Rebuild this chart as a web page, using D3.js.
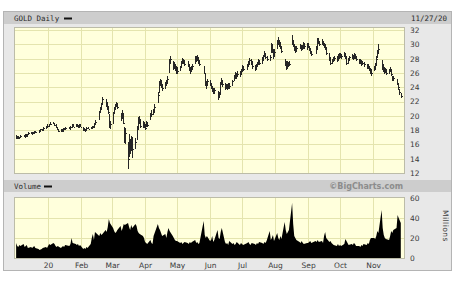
<!DOCTYPE html>
<html>
<head>
<meta charset="utf-8">
<script src="https://cdn.jsdelivr.net/npm/d3@7"></script>
<style>
  body { margin: 0; background: #fff; }
  svg { display: block; font-family: 'DejaVu Sans', sans-serif; }
</style>
</head>
<body>
<script>
// ---- data ----
const symbol = 'GOLD Daily';
const asOf = '11/27/20';
const holidays = ['2019-12-25', '2020-01-01', '2020-01-20', '2020-02-17', '2020-04-10',
  '2020-05-25', '2020-07-03', '2020-09-07', '2020-11-26'];

// daily closes, Dec 2 2019 .. Nov 27 2020 (one row per month)
const closes = [
  16.9,17.1,16.9,17.0,17.2, 17.1,17.3,17.2,17.4,17.6, 17.5,17.7,17.6,17.8,17.7, 17.9,18.1,18.0,18.3, 18.5,18.6,
  18.8,18.9, 19.0,18.7,18.4,18.1,17.9, 18.0,17.9,18.1,18.2,18.3, 18.2,18.4,18.6,18.5, 18.7,18.6,18.4,18.6,18.5,
  18.0,18.1,18.0,18.3,18.2, 18.3,18.5,18.4,18.9,19.2, 20.5,21.0,21.6,22.3, 21.8,21.2,20.5,18.6,18.9,
  20.4,21.0,21.5,21.8,21.2, 19.8,20.4,19.0,16.6,17.6, 13.9,16.2,15.2,16.8,15.4, 16.3,18.2,19.4,19.6,18.6, 18.9,18.6,
  18.3,19.0,18.7, 20.1,20.3,20.6,21.2, 22.9,24.4,24.8,24.3,23.9, 24.4,24.6,25.2,27.5,27.9, 26.8,27.2,26.6,26.3,
  26.3, 26.8,27.4,27.9,27.6,27.3, 27.1,26.6,26.3,26.5,27.0, 28.0,27.9,28.2,27.6,27.2, 26.0,24.4,24.3,24.8,
  24.6,24.0,23.8,23.2,23.6, 22.7,23.0,24.5,24.9,24.4, 24.0,24.2,23.9,24.3,24.1, 24.8,25.4,25.7,25.5,25.9, 25.8,26.3,
  26.7,26.5, 26.9,27.3,27.8,27.4,27.0, 26.5,26.9,27.2,27.6,27.4, 27.8,28.3,28.7,28.2,28.0, 28.2,29.8,29.4,28.4,28.9,
  30.2,30.4,30.0,29.8,29.1, 27.4,26.7,27.2,27.1,27.3, 30.4,30.0,29.4,29.1,29.5, 29.8,29.4,29.6,30.0,29.7, 29.6,
  29.8,29.4,29.0,28.6, 29.3,30.6,30.4,30.0, 30.4,30.1,29.8,29.6,28.8, 28.0,27.4,27.6,27.9,28.1, 27.8,28.2,28.4,
  28.5,28.3, 28.6,28.4,27.4,27.8,28.2, 28.4,28.1,28.5,28.2,27.9, 27.6,27.8,27.3,27.4,27.2, 27.0,26.8,26.5,26.3,26.0,
  26.6,27.1,27.9,28.8,29.4, 26.9,26.5,26.3,26.4,26.0, 26.3,26.5,25.8,25.2,25.3, 24.6,24.0,23.3, 22.8
];
const highs = [
  17.3,17.2,17.2,17.1,17.3, 17.3,17.4,17.4,17.5,17.7, 17.7,17.8,17.8,17.9,17.9, 18.0,18.2,18.2,18.4, 18.6,18.8,
  18.9,19.1, 19.2,19.0,18.8,18.5,18.2, 18.2,18.1,18.3,18.3,18.5, 18.4,18.6,18.8,18.8, 18.9,18.9,18.7,18.8,18.8,
  18.5,18.3,18.2,18.4,18.4, 18.4,18.6,18.6,19.0,19.4, 20.7,21.3,21.8,22.6, 22.4,21.9,21.4,20.2,19.3,
  20.6,21.3,21.7,22.0,21.7, 20.4,20.8,20.2,18.4,18.3, 16.4,17.5,16.8,17.2,17.1, 16.9,18.6,19.9,20.0,19.4, 19.3,19.2,
  18.8,19.3,19.2, 20.4,20.8,20.9,21.6, 23.3,24.9,25.2,25.0,24.5, 24.7,25.0,25.6,28.0,28.4, 27.6,27.5,27.3,26.9,
  26.8, 27.0,27.6,28.1,28.0,27.8, 27.6,27.2,26.8,26.9,27.3, 28.3,28.4,28.5,28.2,27.8, 27.0,25.8,24.9,25.2,
  25.0,24.6,24.2,23.9,23.9, 23.4,23.3,24.7,25.3,25.0, 24.6,24.5,24.4,24.6,24.6, 25.0,25.7,26.1,26.0,26.2, 26.2,26.6,
  27.1,26.9, 27.2,27.6,28.1,28.0,27.6, 27.1,27.2,27.5,27.9,27.8, 28.2,28.5,29.0,28.8,28.3, 28.5,30.2,30.1,29.2,29.3,
  30.6,31.0,30.6,30.3,29.8, 27.9,27.6,27.6,27.5,27.6, 31.3,30.6,30.1,29.7,29.8, 30.1,29.9,29.9,30.3,30.2, 30.2,
  30.2,29.8,29.5,29.1, 29.7,30.9,30.9,30.5, 30.7,30.5,30.2,30.0,29.6, 28.8,28.2,28.0,28.2,28.4, 28.3,28.6,28.8,
  28.8,28.7, 28.9,28.8,28.4,28.1,28.4, 28.7,28.5,28.8,28.6,28.3, 28.0,28.0,27.8,27.7,27.5, 27.3,27.2,26.9,26.7,26.5,
  26.9,27.4,28.3,29.2,30.0, 27.8,27.2,26.8,26.7,26.5, 26.6,26.8,26.5,25.6,25.6, 25.2,24.5,23.7, 23.2
];
const lows = [
  16.7,16.8,16.8,16.8,16.9, 17.0,17.0,17.1,17.1,17.3, 17.4,17.4,17.5,17.5,17.6, 17.6,17.8,17.9,17.9, 18.2,18.3,
  18.5,18.7, 18.8,18.6,18.3,18.0,17.8, 17.8,17.8,17.8,18.0,18.1, 18.1,18.2,18.3,18.4, 18.4,18.4,18.3,18.3,18.4,
  17.9,17.9,17.8,18.0,18.1, 18.1,18.2,18.3,18.4,18.9, 19.4,20.4,20.8,21.5, 21.2,20.8,20.2,18.3,18.2,
  18.9,20.2,20.8,21.2,20.9, 19.3,19.6,18.8,16.2,16.1, 12.6,14.2,14.6,15.1,14.1, 15.4,16.6,18.1,18.8,18.3, 18.3,18.3,
  18.0,18.5,18.4, 19.4,19.8,20.1,20.6, 21.8,23.2,24.1,23.9,23.4, 23.7,24.1,24.4,26.0,27.2, 26.4,26.6,26.2,25.8,
  25.8, 26.2,26.7,27.3,27.2,27.0, 26.8,26.3,25.9,26.1,26.4, 27.2,27.5,27.7,27.3,27.0, 25.8,24.2,23.7,24.2,
  24.1,23.7,23.3,23.0,23.1, 22.2,22.5,23.1,24.4,24.0, 23.6,23.8,23.6,23.8,23.8, 24.2,24.8,25.2,25.1,25.4, 25.4,25.7,
  26.2,26.2, 26.4,26.8,27.2,27.1,26.6, 26.2,26.4,26.8,27.1,27.1, 27.3,27.8,28.2,27.9,27.6, 27.6,28.8,28.8,27.9,28.2,
  29.4,29.9,29.6,29.4,28.8, 27.0,26.4,26.7,26.8,26.9, 29.9,29.6,29.0,28.8,29.0, 29.3,29.1,29.2,29.4,29.3, 29.2,
  29.5,29.1,28.6,28.3, 28.7,29.4,30.1,29.8, 29.9,29.8,29.5,29.2,28.5, 27.7,27.1,27.2,27.5,27.7, 27.5,27.8,28.0,
  28.1,28.0, 28.2,27.9,27.1,27.2,27.7, 28.0,27.8,28.0,27.9,27.6, 27.3,27.3,27.0,27.1,26.8, 26.6,26.5,26.2,25.9,25.6,
  26.2,26.5,27.0,28.1,28.8, 26.4,26.1,25.9,26.0,25.7, 25.8,26.1,25.5,24.9,24.8, 24.3,23.6,22.9, 22.5
];
// daily volume, millions of shares
const volumes = [
  15,12,11,13,12, 14,11,12,13,10, 11,10,11,12,10, 9,8,9,10, 11,10,
  14,13, 15,14,12,11,12, 10,11,12,11,13, 12,14,20,15, 14,13,14,12,13,
  9,10,9,11,10, 14,20,24,18,26, 22,25,23,24, 28,26,31,39,35,
  30,27,25,26,28, 32,27,30,34,33, 35,31,28,33,30, 34,32,27,25,24, 22,20,
  16,15,14, 18,15,14,22, 34,30,28,25,22, 24,20,26,30,27, 22,20,18,17,
  17, 15,16,14,15,16, 15,14,16,15,16, 18,15,16,14,15, 37,23,20,22,
  17,18,22,16,18, 28,20,19,26,30, 16,14,15,13,17, 14,15,13,14,16, 13,15,
  14,13, 15,16,14,13,15, 14,13,15,14,16, 15,14,16,15,17, 27,18,20,23,17,
  25,20,18,22,19, 36,28,24,26,28, 55,34,22,20,18, 16,15,17,15,14, 15,
  15,16,17,15, 17,16,18,16, 17,15,22,26,20, 16,17,15,14,13, 12,14,12,
  13,12, 14,19,17,15,13, 14,13,15,14,12, 12,11,13,12,14, 13,15,14,18,20,
  20,19,22,27,25, 48,30,23,20,19, 18,22,27,25,28, 30,43,40, 35
];

const priceTicks = [12, 14, 16, 18, 20, 22, 24, 26, 28, 30, 32];
const volumeTicks = [0, 20, 40, 60];
const monthTicks = ['2020-01-01', '2020-02-01', '2020-03-01', '2020-04-01', '2020-05-01', '2020-06-01',
  '2020-07-01', '2020-08-01', '2020-09-01', '2020-10-01', '2020-11-01'];
const monthLabels = ['20', 'Feb', 'Mar', 'Apr', 'May', 'Jun', 'Jul', 'Aug', 'Sep', 'Oct', 'Nov'];

// ---- trading calendar ----
const parse = d3.utcParse('%Y-%m-%d');
const fmt = d3.utcFormat('%Y-%m-%d');
const days = d3.utcDay
  .range(parse('2019-12-02'), parse('2020-11-28'))
  .filter((d) => d.getUTCDay() % 6 !== 0 && !holidays.includes(fmt(d)));
const bars = days.map((date, i) => ({
  date, close: closes[i], high: highs[i], low: lows[i], vol: volumes[i]
})).filter((d) => d.close != null);

// ---- layout ----
const W = 467, H = 282;
const left = 14, right = 404;
const pTop = 27, pBot = 173;
const vTop = 198, vBot = 258;
const bg = '#ffffdc', grid = '#e4e4ae', frame = '#e8e8e8', band = '#cdcdcd';

const svg = d3.select('body').append('svg').attr('width', W).attr('height', H);

const x = d3.scaleUtc().domain([parse('2019-11-30'), parse('2020-11-30')]).range([left, right]);
const yP = d3.scaleLinear().domain([12, 32]).range([pBot, pTop + 3]);
const yV = d3.scaleLinear().domain([0, 60]).range([vBot, vTop]);
const px = (v) => Math.round(v) + 0.5;

// panel + bands
svg.append('rect').attr('x', 3.5).attr('y', 11.5).attr('width', 448).attr('height', 259)
  .attr('fill', frame).attr('stroke', '#b4b4b4');
svg.append('rect').attr('x', 4).attr('y', 12).attr('width', 447).attr('height', 12).attr('fill', band);
svg.append('rect').attr('x', 4).attr('y', 180).attr('width', 447).attr('height', 12).attr('fill', band);

// plot backgrounds
[[pTop, pBot], [vTop - 1, vBot]].forEach(([t, b]) => {
  svg.append('rect').attr('x', left + 0.5).attr('y', t + 0.5)
    .attr('width', right - left).attr('height', b - t)
    .attr('fill', bg).attr('stroke', '#bcbca8');
});

// grids
const gridG = svg.append('g').attr('stroke', grid).attr('stroke-width', 1).attr('shape-rendering', 'crispEdges');
gridG.selectAll('.vp').data(monthTicks).join('line')
  .attr('x1', (d) => px(x(parse(d)))).attr('x2', (d) => px(x(parse(d))))
  .attr('y1', pTop + 1).attr('y2', pBot);
gridG.selectAll('.vv').data(monthTicks).join('line')
  .attr('x1', (d) => px(x(parse(d)))).attr('x2', (d) => px(x(parse(d))))
  .attr('y1', vTop).attr('y2', vBot);
gridG.selectAll('.hp').data(priceTicks.slice(1)).join('line')
  .attr('x1', left + 1).attr('x2', right)
  .attr('y1', (d) => px(yP(d))).attr('y2', (d) => px(yP(d)));
gridG.selectAll('.hv').data(volumeTicks.slice(1, 3)).join('line')
  .attr('x1', left + 1).attr('x2', right)
  .attr('y1', (d) => px(yV(d))).attr('y2', (d) => px(yV(d)));

// price bars (high-low with close tick)
const barG = svg.append('g').attr('stroke', '#262626').attr('shape-rendering', 'crispEdges');
barG.selectAll('line.hl').data(bars).join('line')
  .attr('x1', (d) => px(x(d.date))).attr('x2', (d) => px(x(d.date)))
  .attr('y1', (d) => yP(d.high)).attr('y2', (d) => yP(d.low));
barG.selectAll('line.cl').data(bars).join('line')
  .attr('x1', (d) => px(x(d.date))).attr('x2', (d) => px(x(d.date)) + 1.5)
  .attr('y1', (d) => px(yP(d.close))).attr('y2', (d) => px(yP(d.close)));

// volume mountain
const area = d3.area()
  .x((d) => x(d.date))
  .y0(yV(0))
  .y1((d) => yV(d.vol));
svg.append('path').datum(bars).attr('d', area).attr('fill', '#000');

// axes labels
const yAxisP = svg.append('g').attr('transform', `translate(${right},0)`)
  .call(d3.axisRight(yP).tickValues(priceTicks).tickSize(0).tickPadding(6));
const yAxisV = svg.append('g').attr('transform', `translate(${right},0)`)
  .call(d3.axisRight(yV).tickValues(volumeTicks).tickSize(0).tickPadding(6));
const xAxis = svg.append('g').attr('transform', `translate(0,${vBot + 2})`)
  .call(d3.axisBottom(x).tickValues(monthTicks.map(parse)).tickSize(0).tickPadding(3)
    .tickFormat((d, i) => monthLabels[i]));
[yAxisP, yAxisV, xAxis].forEach((g) => {
  g.select('.domain').remove();
  g.selectAll('text').attr('font-family', "'DejaVu Sans', sans-serif")
    .attr('font-size', '7.5px').attr('fill', '#3a3a3a');
});

svg.append('text').attr('transform', 'translate(443,226) rotate(90)')
  .attr('text-anchor', 'middle').attr('font-size', '7.5px').attr('fill', '#3a3a3a')
  .attr('letter-spacing', '0.5').text('Millions');

// headers
const mono = "'DejaVu Sans Mono', monospace";
svg.append('text').attr('x', 14).attr('y', 21).attr('font-family', mono)
  .attr('font-size', '7.5px').attr('fill', '#2a2a2a').text(symbol);
svg.append('line').attr('x1', 64).attr('x2', 72).attr('y1', 18.5).attr('y2', 18.5)
  .attr('stroke', '#111').attr('stroke-width', 2);
svg.append('text').attr('x', 447).attr('y', 21).attr('text-anchor', 'end').attr('font-family', mono)
  .attr('font-size', '7.5px').attr('fill', '#2a2a2a').text(asOf);
svg.append('text').attr('x', 14).attr('y', 189).attr('font-family', mono)
  .attr('font-size', '7.5px').attr('fill', '#2a2a2a').text('Volume');
svg.append('line').attr('x1', 44).attr('x2', 52).attr('y1', 186.5).attr('y2', 186.5)
  .attr('stroke', '#111').attr('stroke-width', 2);
svg.append('text').attr('x', 403).attr('y', 189).attr('text-anchor', 'end')
  .attr('font-size', '8px').attr('font-weight', 'bold').attr('fill', '#8c8c8c')
  .text('©BigCharts.com');
</script>
</body>
</html>
